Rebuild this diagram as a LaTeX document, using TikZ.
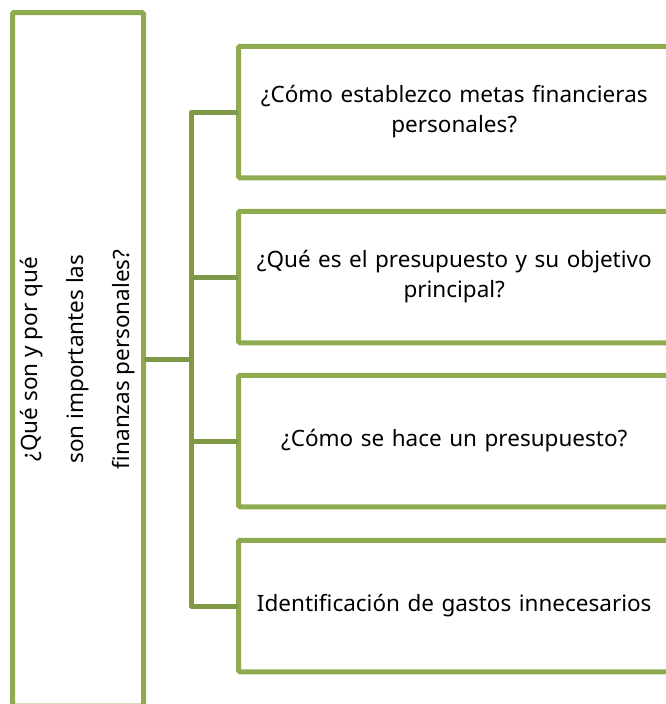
\documentclass[tikz,border=0pt]{standalone}
\usepackage{fontspec}
\setmainfont{Noto Sans}
\definecolor{boxgreen}{RGB}{143,171,80}
\definecolor{linegreen}{RGB}{128,153,72}
\begin{document}
\begin{tikzpicture}[x=1pt,y=1pt,
  gbox/.style={draw=boxgreen,line width=5pt,rounded corners=1.5pt,fill=white,
    minimum width=431.5pt,minimum height=131.5pt,inner sep=0pt,
    align=center,text width=425pt,font={\fontsize{22.5}{30}\selectfont}},
  conn/.style={draw=linegreen,line width=5pt,line cap=round,line join=round}]
\useasboundingbox (0,0) rectangle (665,-704);
% left box
\node[draw=boxgreen,line width=5pt,rounded corners=1.5pt,minimum width=131pt,minimum height=693.5pt,inner sep=0pt] (L) at (78,-359.25) {};
\node[rotate=90,align=center,font={\fontsize{22.5}{46}\selectfont}] (Lt) at (L.center) {¿Qué son y por qué\\son importantes las\\finanzas personales?};
% right boxes
\node[gbox] (B1) at (454.25,-112) {¿Cómo establezco metas financieras\\personales?};
\node[gbox] (B2) at (454.25,-277) {¿Qué es el presupuesto y su objetivo\\principal?};
\node[gbox] (B3) at (454.25,-441) {¿Cómo se hace un presupuesto?};
\node[gbox] (B4) at (454.25,-606) {Identificación de gastos innecesarios};
% connectors
\coordinate (bus) at (191.5,-359.25);
\coordinate (j1) at (bus |- B1.west);
\coordinate (j4) at (bus |- B4.west);
\draw[conn] (L.east) -- (bus);
\draw[conn] (B1.west) -- (j1) -- (j4) -- (B4.west);
\draw[conn] (B2.west) -- (B2.west -| bus);
\draw[conn] (B3.west) -- (B3.west -| bus);
\end{tikzpicture}
\end{document}
